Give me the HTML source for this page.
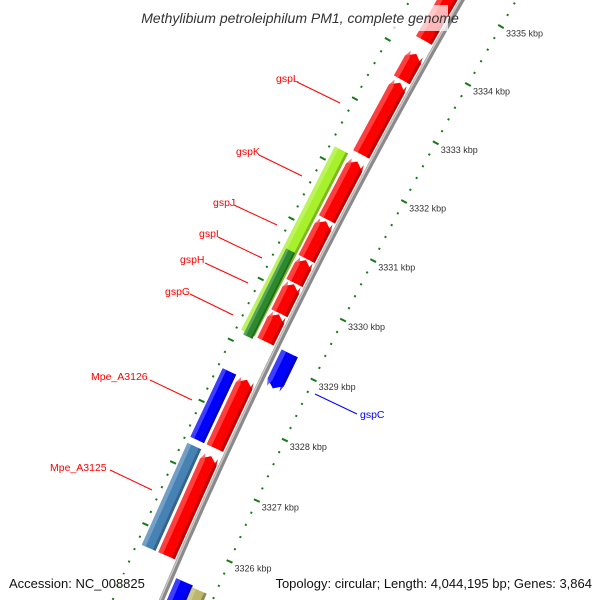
<!DOCTYPE html>
<html><head><meta charset="utf-8">
<style>
html,body{margin:0;padding:0;background:#fff;overflow:hidden;width:600px;height:600px;}
svg{display:block;font-family:"Liberation Sans","DejaVu Sans",sans-serif;}
</style></head>
<body>
<svg id="map" width="600" height="600" viewBox="0 0 600 600" xmlns="http://www.w3.org/2000/svg">
  <g id="ticks"></g>
  <g id="backbone"></g>
  <g id="features"></g>
  <g id="ticklabels"></g>
  <g id="labels" font-size="10.5"></g>
  <rect x="118" y="5" width="330" height="26" fill="#fff" opacity="0.72"/>
  <text x="300" y="23" text-anchor="middle" font-size="14" font-style="italic" fill="#333">Methylibium petroleiphilum PM1, complete genome</text>
  <rect x="4" y="574" width="142" height="20" fill="#fff" opacity="0.72"/>
  <text x="9" y="588" font-size="13" fill="#111">Accession: NC_008825</text>
  <rect x="256" y="574" width="340" height="20" fill="#fff" opacity="0.72"/>
  <text x="592" y="588" text-anchor="end" font-size="13" fill="#111">Topology: circular; Length: 4,044,195 bp; Genes: 3,864</text>
</svg>
<script>
// ---- data ----
const featNames = ["f1","f2","f3","gspL","gspK-r","gspJ-r","gspI-r","gspH-r","f9","f10","gspK","gspG","Mpe_A3126","Mpe_A3125","gspC","f16","f17","f18"];
const featStart = [3334.25,3333.58,3332.32,3331.23,3330.57,3330.17,3329.67,3329.20,3327.45,3325.70,3329.20,3329.15,3327.45,3325.70,3328.62,3324.9,3324.97,3324.87];
const featEnd   = [3335.80,3334.02,3333.53,3332.20,3331.20,3330.55,3330.15,3329.65,3328.57,3327.32,3332.24,3330.57,3328.57,3327.35,3329.20,3325.45,3325.42,3324.87];
const featRing  = [1,1,1,1,1,1,1,1,1,1,2,3,2,2,-1,-1,-2,2];
const featColor = ["#ff0000","#ff0000","#ff0000","#ff0000","#ff0000","#ff0000","#ff0000","#ff0000","#ff0000","#ff0000","#a6f02c","#2c8a2c","#0000ff","#4682b4","#0000ff","#0000ff","#bdb76b","#6c7cff"];
const featStrand= [1,1,1,1,1,1,1,1,1,1,0,0,0,0,-1,0,0,0];
const tickKbp = [3326,3327,3328,3329,3330,3331,3332,3333,3334,3335];

// ---- geometry ----
const CX=5310, CY=2803, DEG=0.688, K0=3335, A0=210;
function P(k,r){const a=(A0-(K0-k)*DEG)*Math.PI/180;return [CX+r*Math.cos(a),CY+r*Math.sin(a)];}
const ringR={1:[5604,5622],2:[5625,5640],3:[5626,5636],"-1":[5577,5595],"-2":[5561,5577]};
const NS="http://www.w3.org/2000/svg";
function mk(tag,attrs,parent){const e=document.createElementNS(NS,tag);for(const k in attrs)e.setAttribute(k,attrs[k]);parent.appendChild(e);return e;}
function pts(a){return a.map(p=>p[0].toFixed(1)+","+p[1].toFixed(1)).join(" ");}

// ticks
const gT=document.getElementById("ticks");
[5553,5645].forEach(function(r){
  for(let i=0;i<=64;i++){
    const k=3324+i*0.2;
    const major=Math.abs(k-Math.round(k))<0.01;
    const h=major?3.2:1;
    const a=P(k,r-h),b=P(k,r+h);
    const t=mk("line",{x1:a[0],y1:a[1],x2:b[0],y2:b[1],stroke:"#157a15","stroke-width":2},gT);
    
    
  }
});
// tick labels
const gL=document.getElementById("ticklabels");
tickKbp.forEach(function(k){
  const p=P(k,5553);
  const t=mk("text",{x:(p[0]+5).toFixed(1),y:(p[1]+10).toFixed(1),"font-size":"9",fill:"#333"},gL);
  t.textContent=k+" kbp";
  
  
});
// backbone
const gB=document.getElementById("backbone");
function arcPts(r,k1,k2){const a=[];for(let k=k1;k<=k2+1e-9;k+=0.25)a.push(P(k,r));return a;}
const bb1=mk("polyline",{points:pts(arcPts(5600,3324.5,3336)),fill:"none",stroke:"#8a8a8a","stroke-width":5},gB);


const bb2=mk("polyline",{points:pts(arcPts(5601.3,3324.5,3336)),fill:"none",stroke:"#c8c8c8","stroke-width":1.5},gB);



// features
const gF=document.getElementById("features");
function shade(hex,f){const n=parseInt(hex.slice(1),16);let r=n>>16,g=(n>>8)&255,b=n&255;
  if(f>0){r+= (255-r)*f;g+=(255-g)*f;b+=(255-b)*f;}else{r*=1+f;g*=1+f;b*=1+f;}
  return "rgb("+Math.round(r)+","+Math.round(g)+","+Math.round(b)+")";}
function shape(k1,k2,r1,r2,strand){
  const head=0.1, rm=(r1+r2)/2;
  if(strand===1&&k2-k1>head){return [P(k1,r1),P(k2-head,r1),P(k2,rm),P(k2-head,r2),P(k1,r2)];}
  if(strand===-1&&k2-k1>head){return [P(k1+head,r1),P(k2,r1),P(k2,r2),P(k1+head,r2),P(k1,rm)];}
  return [P(k1,r1),P(k2,r1),P(k2,r2),P(k1,r2)];
}
for(let i=0;i<featNames.length;i++){
  const rr=ringR[featRing[i]], r1=rr[0], r2=rr[1], c=featColor[i];
  const g=mk("g",{},gF);
  
  
  mk("polygon",{points:pts(shape(featStart[i],featEnd[i],r1,r2,featStrand[i])),fill:c},g);
  const w=r2-r1;
  mk("polygon",{points:pts(shape(featStart[i],featEnd[i],r2-w*0.28,r2,featStrand[i])),fill:shade(c,0.3),opacity:0.8},g);
  mk("polygon",{points:pts(shape(featStart[i],featEnd[i],r1,r1+w*0.18,featStrand[i])),fill:shade(c,-0.3),opacity:0.8},g);
}

// feature labels
const gLab=document.getElementById("labels");
const labs=[["gspL",276,82,297,82,340,103,"#f00"],["gspK",236,155,259,155,302,176,"#f00"],["gspJ",213,206,234,205,277,225,"#f00"],
 ["gspI",199,237,218,237,262,258,"#f00"],["gspH",180,263,205,263,248,283,"#f00"],["gspG",165,295,190,294,233,315,"#f00"],
 ["Mpe_A3126",91,380,150,380,192,400,"#f00"],["Mpe_A3125",50,471,110,470,152,490,"#f00"],["gspC",360,418,315,394,357,414,"#00f"]];
labs.forEach(function(l){
  const t=mk("text",{x:l[1],y:l[2],fill:l[7]},gLab);
  t.textContent=l[0];
  
  
  const ln=mk("line",{x1:l[3],y1:l[4],x2:l[5],y2:l[6],stroke:l[7],"stroke-width":1},gLab);
  
  
});
</script>
</body></html>
